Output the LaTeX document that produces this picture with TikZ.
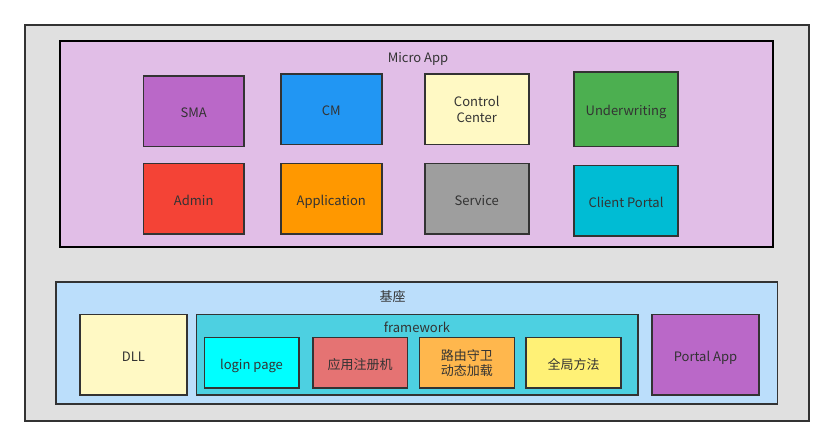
\documentclass[tikz,border=0pt]{standalone}
\usepackage{fontspec}
\setmainfont{Noto Sans CJK SC}
\definecolor{txt}{HTML}{333333}
\definecolor{bd}{HTML}{333333}
\definecolor{outerg}{HTML}{E0E0E0}
\definecolor{microc}{HTML}{E1BEE7}
\definecolor{smac}{HTML}{BA68C8}
\definecolor{cmc}{HTML}{2196F3}
\definecolor{ccc}{HTML}{FFF9C4}
\definecolor{uwc}{HTML}{4CAF50}
\definecolor{adc}{HTML}{F44336}
\definecolor{apc}{HTML}{FF9800}
\definecolor{svc}{HTML}{9E9E9E}
\definecolor{cpc}{HTML}{00BCD4}
\definecolor{basec}{HTML}{BBDEFB}
\definecolor{fwc}{HTML}{4DD0E1}
\definecolor{lpc}{HTML}{00FFFF}
\definecolor{regc}{HTML}{E57373}
\definecolor{routc}{HTML}{FFB74D}
\definecolor{globc}{HTML}{FFF176}
\begin{document}
\begin{tikzpicture}[x=1pt,y=-1pt,
  mbox/.style={draw=bd,line width=1.6pt,inner sep=0pt,align=center,text=txt,font=\fontsize{13}{15.5}\selectfont},
  box/.style={mbox,text height=12.5pt,text depth=0pt},
  lbl/.style={text=txt,inner sep=0pt,font=\fontsize{13}{15.5}\selectfont}]
\useasboundingbox (0,0) rectangle (834,446);
\node[draw=bd,line width=1.8pt,fill=outerg,minimum width=784pt,minimum height=396pt,inner sep=0pt] (outer) at (417,222.7) {};
\node[draw=black,line width=2pt,fill=microc,minimum width=713pt,minimum height=206pt,inner sep=0pt] (micro) at (416.5,143.7) {};
\node[lbl] (microlbl) at (418,58.5) {Micro App};
\node[box,fill=smac,minimum width=100.7pt,minimum height=70.7pt] (sma) at (193.7,111.3) {SMA};
\node[box,fill=cmc,minimum width=101pt,minimum height=70.7pt] (cm) at (331.2,109.3) {CM};
\node[mbox,fill=ccc,minimum width=104pt,minimum height=70.7pt] (cc) at (476.7,109.3) {Control\\Center};
\node[box,fill=uwc,minimum width=104pt,minimum height=74.7pt] (uw) at (626,109.3) {Underwriting};
\node[box,fill=adc,minimum width=100.7pt,minimum height=70.3pt] (admin) at (193.7,198.8) {Admin};
\node[box,fill=apc,minimum width=101pt,minimum height=70.3pt] (app) at (331.2,198.8) {Application};
\node[box,fill=svc,minimum width=104pt,minimum height=70.3pt] (svc) at (476.7,198.8) {Service};
\node[box,fill=cpc,minimum width=104pt,minimum height=70.3pt] (cp) at (626,200.8) {Client Portal};
\node[draw=bd,line width=1.6pt,fill=basec,minimum width=721.7pt,minimum height=122pt,inner sep=0pt] (base) at (416.8,342.7) {};
\node[lbl] (baselbl) at (392.7,296.7) {基座};
\node[box,fill=ccc,minimum width=107pt,minimum height=80.3pt] (dll) at (133.5,354.8) {DLL};
\node[draw=bd,line width=1.6pt,fill=fwc,minimum width=441.7pt,minimum height=80.3pt,inner sep=0pt] (fw) at (417.2,354.8) {};
\node[lbl] (fwlbl) at (417,327.8) {framework};
\node[box,fill=lpc,minimum width=94.4pt,minimum height=50.3pt] (login) at (251.5,362.8) {login page};
\node[box,fill=regc,minimum width=94.6pt,minimum height=50.3pt] (reg) at (360,362.8) {应用注册机};
\node[mbox,fill=routc,minimum width=95pt,minimum height=50.3pt] (rout) at (466.8,362.8) {路由守卫\\动态加载};
\node[box,fill=globc,minimum width=95pt,minimum height=50.3pt] (glob) at (573.5,362.8) {全局方法};
\node[box,fill=smac,minimum width=107pt,minimum height=80.3pt] (portal) at (705.5,354.8) {Portal App};
\end{tikzpicture}
\end{document}
